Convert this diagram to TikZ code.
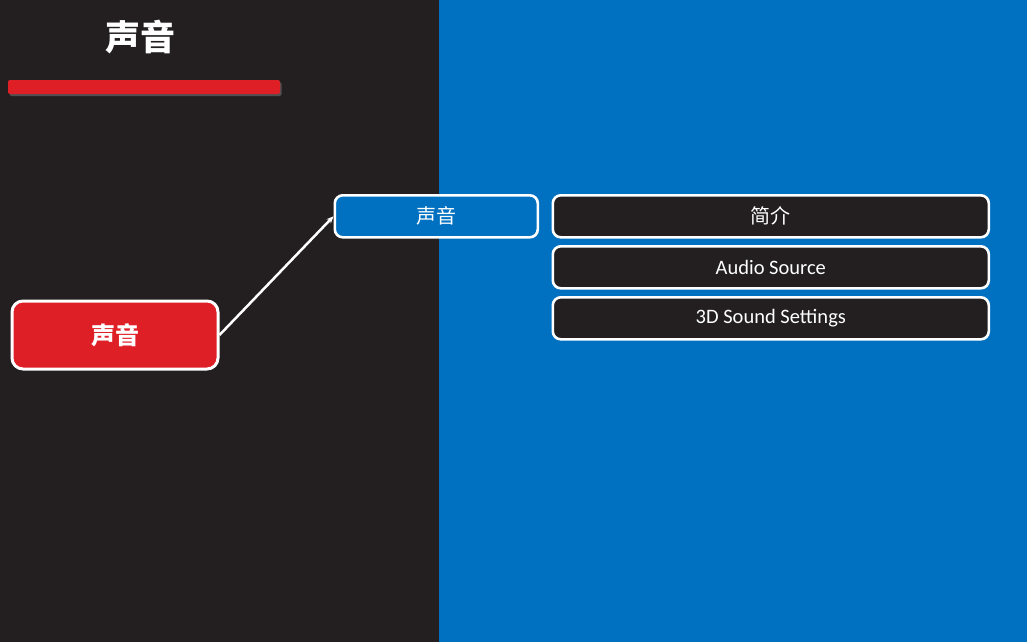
\documentclass[tikz,border=0pt]{standalone}
\usepackage{fontspec}
\setmainfont{Carlito}
\newfontfamily\cjk{Noto Sans CJK SC}
\usetikzlibrary{shadows,arrows.meta}
\definecolor{darkbg}{HTML}{231F20}
\definecolor{bluebg}{HTML}{0070C0}
\definecolor{redc}{HTML}{DF1F26}
\tikzset{
  box/.style={draw=white, line width=2.6pt, rounded corners=8pt, text=white, inner sep=0pt, anchor=north west},
  leaf/.style={box, fill=darkbg, minimum width=436pt, minimum height=42pt, font=\fontsize{20.5}{24}\selectfont},
}
\begin{document}
\begin{tikzpicture}[x=1pt,y=-1pt]
\useasboundingbox (0,0) rectangle (1027,642);
\fill[darkbg] (0,0) rectangle (439,642);
\fill[bluebg] (439,0) rectangle (1027,642);
\node[text=white, font=\cjk\bfseries\fontsize{35}{40}\selectfont] (title) at (140,37) {声音};
\fill[redc, rounded corners=2pt, drop shadow={shadow xshift=1.5pt, shadow yshift=-2pt, opacity=0.5}] (8,80) rectangle (280,94);
\node[box, fill=redc, line width=3pt, rounded corners=11pt, minimum width=206pt, minimum height=68pt, font=\cjk\bfseries\fontsize{24}{28}\selectfont] (main) at (10.5,299.5) {声音};
\node[box, fill=bluebg, minimum width=203pt, minimum height=42pt, font=\cjk\fontsize{20}{24}\selectfont] (sub) at (333.5,194) {声音};
\node[leaf, font=\cjk\fontsize{20}{24}\selectfont] (intro) at (551.5,194) {简介};
\node[leaf] (audio) at (551.5,245) {Audio Source};
\node[leaf] (sound) at (551.5,296) {3D Sound Settings};
\draw[white, line width=2.5pt, -{Stealth[length=7pt,width=6pt]}] (main.east) -- (sub.west);
\end{tikzpicture}
\end{document}
